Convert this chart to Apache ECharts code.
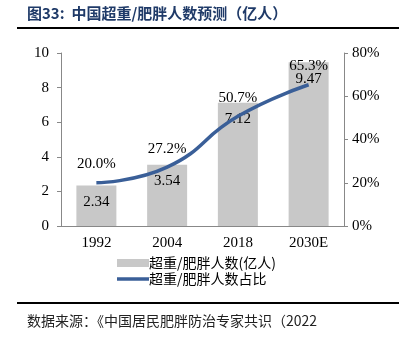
<!DOCTYPE html>
<html><head><meta charset="utf-8">
<script src="https://cdn.jsdelivr.net/npm/echarts@6/dist/echarts.min.js"></script>
<style>html,body{margin:0;padding:0;background:#fff}#c{width:399px;height:343px}</style>
</head><body><div id="c"></div>
<script>
const categories = ['1992', '2004', '2018', '2030E'];
const peopleValues = [2.34, 3.54, 7.12, 9.47];
const shareValues = [20.0, 27.2, 50.7, 65.3];
const leftTicks = {min: 0, max: 10, interval: 2};
const rightTicks = {min: 0, max: 80, interval: 20};
const titleText = '图33:  中国超重/肥胖人数预测（亿人）';
const sourceText = '数据来源：《中国居民肥胖防治专家共识（2022';
const seriesNames = ['超重/肥胖人数(亿人)', '超重/肥胖人数占比'];

const serif = '"Liberation Serif","Times New Roman",serif';
const cjk = '"Noto Sans CJK SC",sans-serif';
const chart = echarts.init(document.getElementById('c'));
chart.setOption({
  animation: false,
  backgroundColor: '#fff',
  grid: {left: 61, right: 55, top: 53, bottom: 117},
  graphic: [
    {type: 'text', left: 27, top: 6, style: {text: titleText, font: 'bold 15px ' + cjk, fill: '#1f3a68'}},
    {type: 'line', shape: {x1: 17, y1: 28, x2: 399, y2: 28}, style: {stroke: '#000', lineWidth: 2}},
    {type: 'line', shape: {x1: 17, y1: 303, x2: 399, y2: 303}, style: {stroke: '#000', lineWidth: 2}},
    {type: 'text', left: 27, top: 314, style: {text: sourceText, font: '14px ' + cjk, fill: '#222'}}
  ],
  legend: {
    orient: 'vertical', left: 112, top: 251, itemGap: 2, itemWidth: 32, itemHeight: 8,
    textStyle: {fontFamily: cjk, fontSize: 14, color: '#000', padding: [0,0,0,-5]},
    data: [{name: seriesNames[0], icon: 'rect'},
           {name: seriesNames[1], icon: 'path://M0,0 L32,0 L32,3.5 L0,3.5 Z'}]
  },
  xAxis: {
    type: 'category', data: categories,
    axisLine: {lineStyle: {color: '#888'}},
    axisTick: {show: false},
    axisLabel: {fontFamily: serif, fontSize: 15, color: '#000', margin: 10}
  },
  yAxis: [
    {type: 'value', min: leftTicks.min, max: leftTicks.max, interval: leftTicks.interval,
     splitLine: {show: false},
     axisLine: {show: true, lineStyle: {color: '#888'}},
     axisTick: {show: true, length: 4, lineStyle: {color: '#888'}},
     axisLabel: {fontFamily: serif, fontSize: 15, color: '#000', margin: 12}},
    {type: 'value', min: rightTicks.min, max: rightTicks.max, interval: rightTicks.interval,
     splitLine: {show: false},
     axisLine: {show: true, lineStyle: {color: '#888'}},
     axisTick: {show: true, length: 4, lineStyle: {color: '#888'}},
     axisLabel: {fontFamily: serif, fontSize: 15, color: '#000', margin: 8, formatter: '{value}%'}}
  ],
  series: [
    {name: seriesNames[0], type: 'bar', data: peopleValues, barWidth: 40,
     itemStyle: {color: '#c8c8c8'},
     label: {show: true, position: 'insideTop', distance: 9, fontFamily: serif, fontSize: 15, color: '#000'}},
    {name: seriesNames[1], type: 'line', yAxisIndex: 1, data: shareValues, smooth: true,
     symbol: 'circle', symbolSize: 0.01, showSymbol: true,
     lineStyle: {color: '#3a5f98', width: 3.5}, itemStyle: {color: '#3a5f98'},
     label: {show: true, position: 'top', distance: 11, fontFamily: serif, fontSize: 15, color: '#000',
       formatter: p => p.value.toFixed(1) + '%'},
     labelLayout: {hideOverlap: false}}
  ]
});
</script></body></html>
